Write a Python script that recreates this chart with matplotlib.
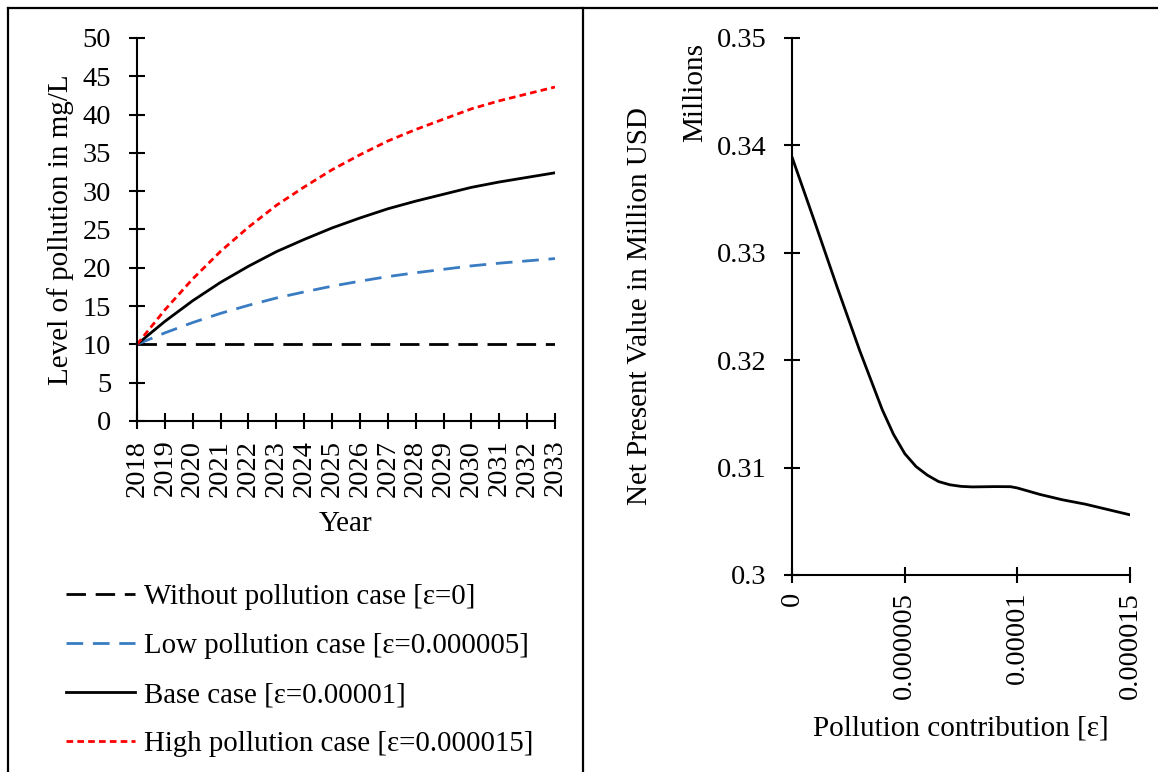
import matplotlib
matplotlib.use("Agg")
import matplotlib.pyplot as plt
from matplotlib.lines import Line2D

plt.rcParams["font.family"] = ["Liberation Serif", "DejaVu Serif"]
plt.rcParams["font.size"] = 21

# dados - painel esquerdo
years = list(range(2018, 2034))
sem_poluicao = [10] * 16
baixa = [10.0, 11.5, 12.85, 14.05, 15.1, 16.05, 16.85, 17.6, 18.25, 18.85,
         19.35, 19.8, 20.25, 20.6, 20.9, 21.2]
base = [10.0, 13.0, 15.7, 18.1, 20.2, 22.1, 23.7, 25.2, 26.5, 27.7,
        28.7, 29.6, 30.5, 31.2, 31.8, 32.4]
alta = [10.0, 14.5, 18.55, 22.15, 25.3, 28.15, 30.55, 32.8, 34.75, 36.55,
        38.05, 39.4, 40.75, 41.8, 42.7, 43.6]
legendas = ["Without pollution case [\u03b5=0]",
            "Low pollution case [\u03b5=0.000005]",
            "Base case [\u03b5=0.00001]",
            "High pollution case [\u03b5=0.000015]"]

# dados - painel direito (NPV, milhoes)
epsilon = [0, 1e-6, 2e-6, 3e-6, 4e-6, 4.5e-6, 5e-6, 5.5e-6, 6e-6, 6.5e-6, 7e-6,
           7.5e-6, 8e-6, 9e-6, 9.7e-6, 1e-5, 1.1e-5, 1.2e-5, 1.3e-5, 1.4e-5, 1.5e-5]
npv = [0.3389, 0.3329, 0.3268, 0.3209, 0.3154, 0.3131, 0.3113, 0.3101, 0.3093,
       0.3087, 0.3084, 0.30825, 0.3082, 0.30823, 0.30822, 0.3081, 0.3075,
       0.3070, 0.3066, 0.3061, 0.3056]
eps_ticks = [0, 5e-6, 1e-5, 1.5e-5]
eps_labels = ["0", "0.000005", "0.00001", "0.000015"]

fig = plt.figure(figsize=(11.58, 7.72), dpi=100)

# bordas tipo tabela
fig.add_artist(Line2D([0.0065, 1.0], [0.9896, 0.9896], color="black", lw=1.6))
fig.add_artist(Line2D([0.0065, 0.0065], [0.0, 0.9896], color="black", lw=1.6))
fig.add_artist(Line2D([0.5035, 0.5035], [0.0, 0.9896], color="black", lw=1.6))

# 1. painel esquerdo
ax1 = fig.add_axes([0.1183, 0.4547, 0.361, 0.4961])
l1, = ax1.plot(years, sem_poluicao, color="black", lw=2, dashes=(7, 3.5))
l2, = ax1.plot(years, baixa, color="#3a7cc2", lw=2, dashes=(6, 3.5))
l3, = ax1.plot(years, base, color="black", lw=2)
l4, = ax1.plot(years, alta, color="#ff0000", lw=2, dashes=(2.4, 1.5))
ax1.set_xlim(2018, 2033)
ax1.set_ylim(0, 50)
ax1.set_yticks(range(0, 51, 5))
ax1.set_xticks(years)
ax1.set_xticklabels([str(y) for y in years], rotation=90)
ax1.set_xlabel("Year", labelpad=10)
ax1.set_ylabel("Level of pollution in mg/L", labelpad=6)
ax1.spines["top"].set_visible(False)
ax1.spines["right"].set_visible(False)
for s in ["left", "bottom"]:
    ax1.spines[s].set_linewidth(1.5)
ax1.tick_params(direction="inout", length=11, width=1.5, labelsize=20.5)
ax1.tick_params(axis="y", pad=13)
ax1.tick_params(axis="x", pad=8)

fig.legend([l1, l2, l3, l4], legendas, loc="upper left",
           bbox_to_anchor=(0.047, 0.2585), frameon=False,
           handlelength=2.4, handletextpad=0.3, labelspacing=0.79,
           borderaxespad=0, fontsize=20.8)

# 2. painel direito
ax2 = fig.add_axes([0.684, 0.2552, 0.2919, 0.6956])
ax2.plot(epsilon, npv, color="black", lw=2)
ax2.set_xlim(0, 1.5e-5)
ax2.set_ylim(0.3, 0.35)
ax2.set_yticks([0.3, 0.31, 0.32, 0.33, 0.34, 0.35])
ax2.set_yticklabels(["0.3", "0.31", "0.32", "0.33", "0.34", "0.35"])
ax2.set_xticks(eps_ticks)
ax2.set_xticklabels(eps_labels, rotation=90)
ax2.set_xlabel("Pollution contribution [\u03b5]", labelpad=12)
ax2.set_ylabel("Net Present Value in Million USD", labelpad=46)
ax2.spines["top"].set_visible(False)
ax2.spines["right"].set_visible(False)
for s in ["left", "bottom"]:
    ax2.spines[s].set_linewidth(1.5)
ax2.tick_params(direction="inout", length=11, width=1.5, labelsize=20.5)
ax2.tick_params(axis="y", pad=12.8)
ax2.tick_params(axis="x", pad=6.7)
ax2.text(-0.288, 0.99, "Millions", transform=ax2.transAxes, rotation=90,
         ha="center", va="top", fontsize=21)

fig.savefig("out.png", dpi=100)
